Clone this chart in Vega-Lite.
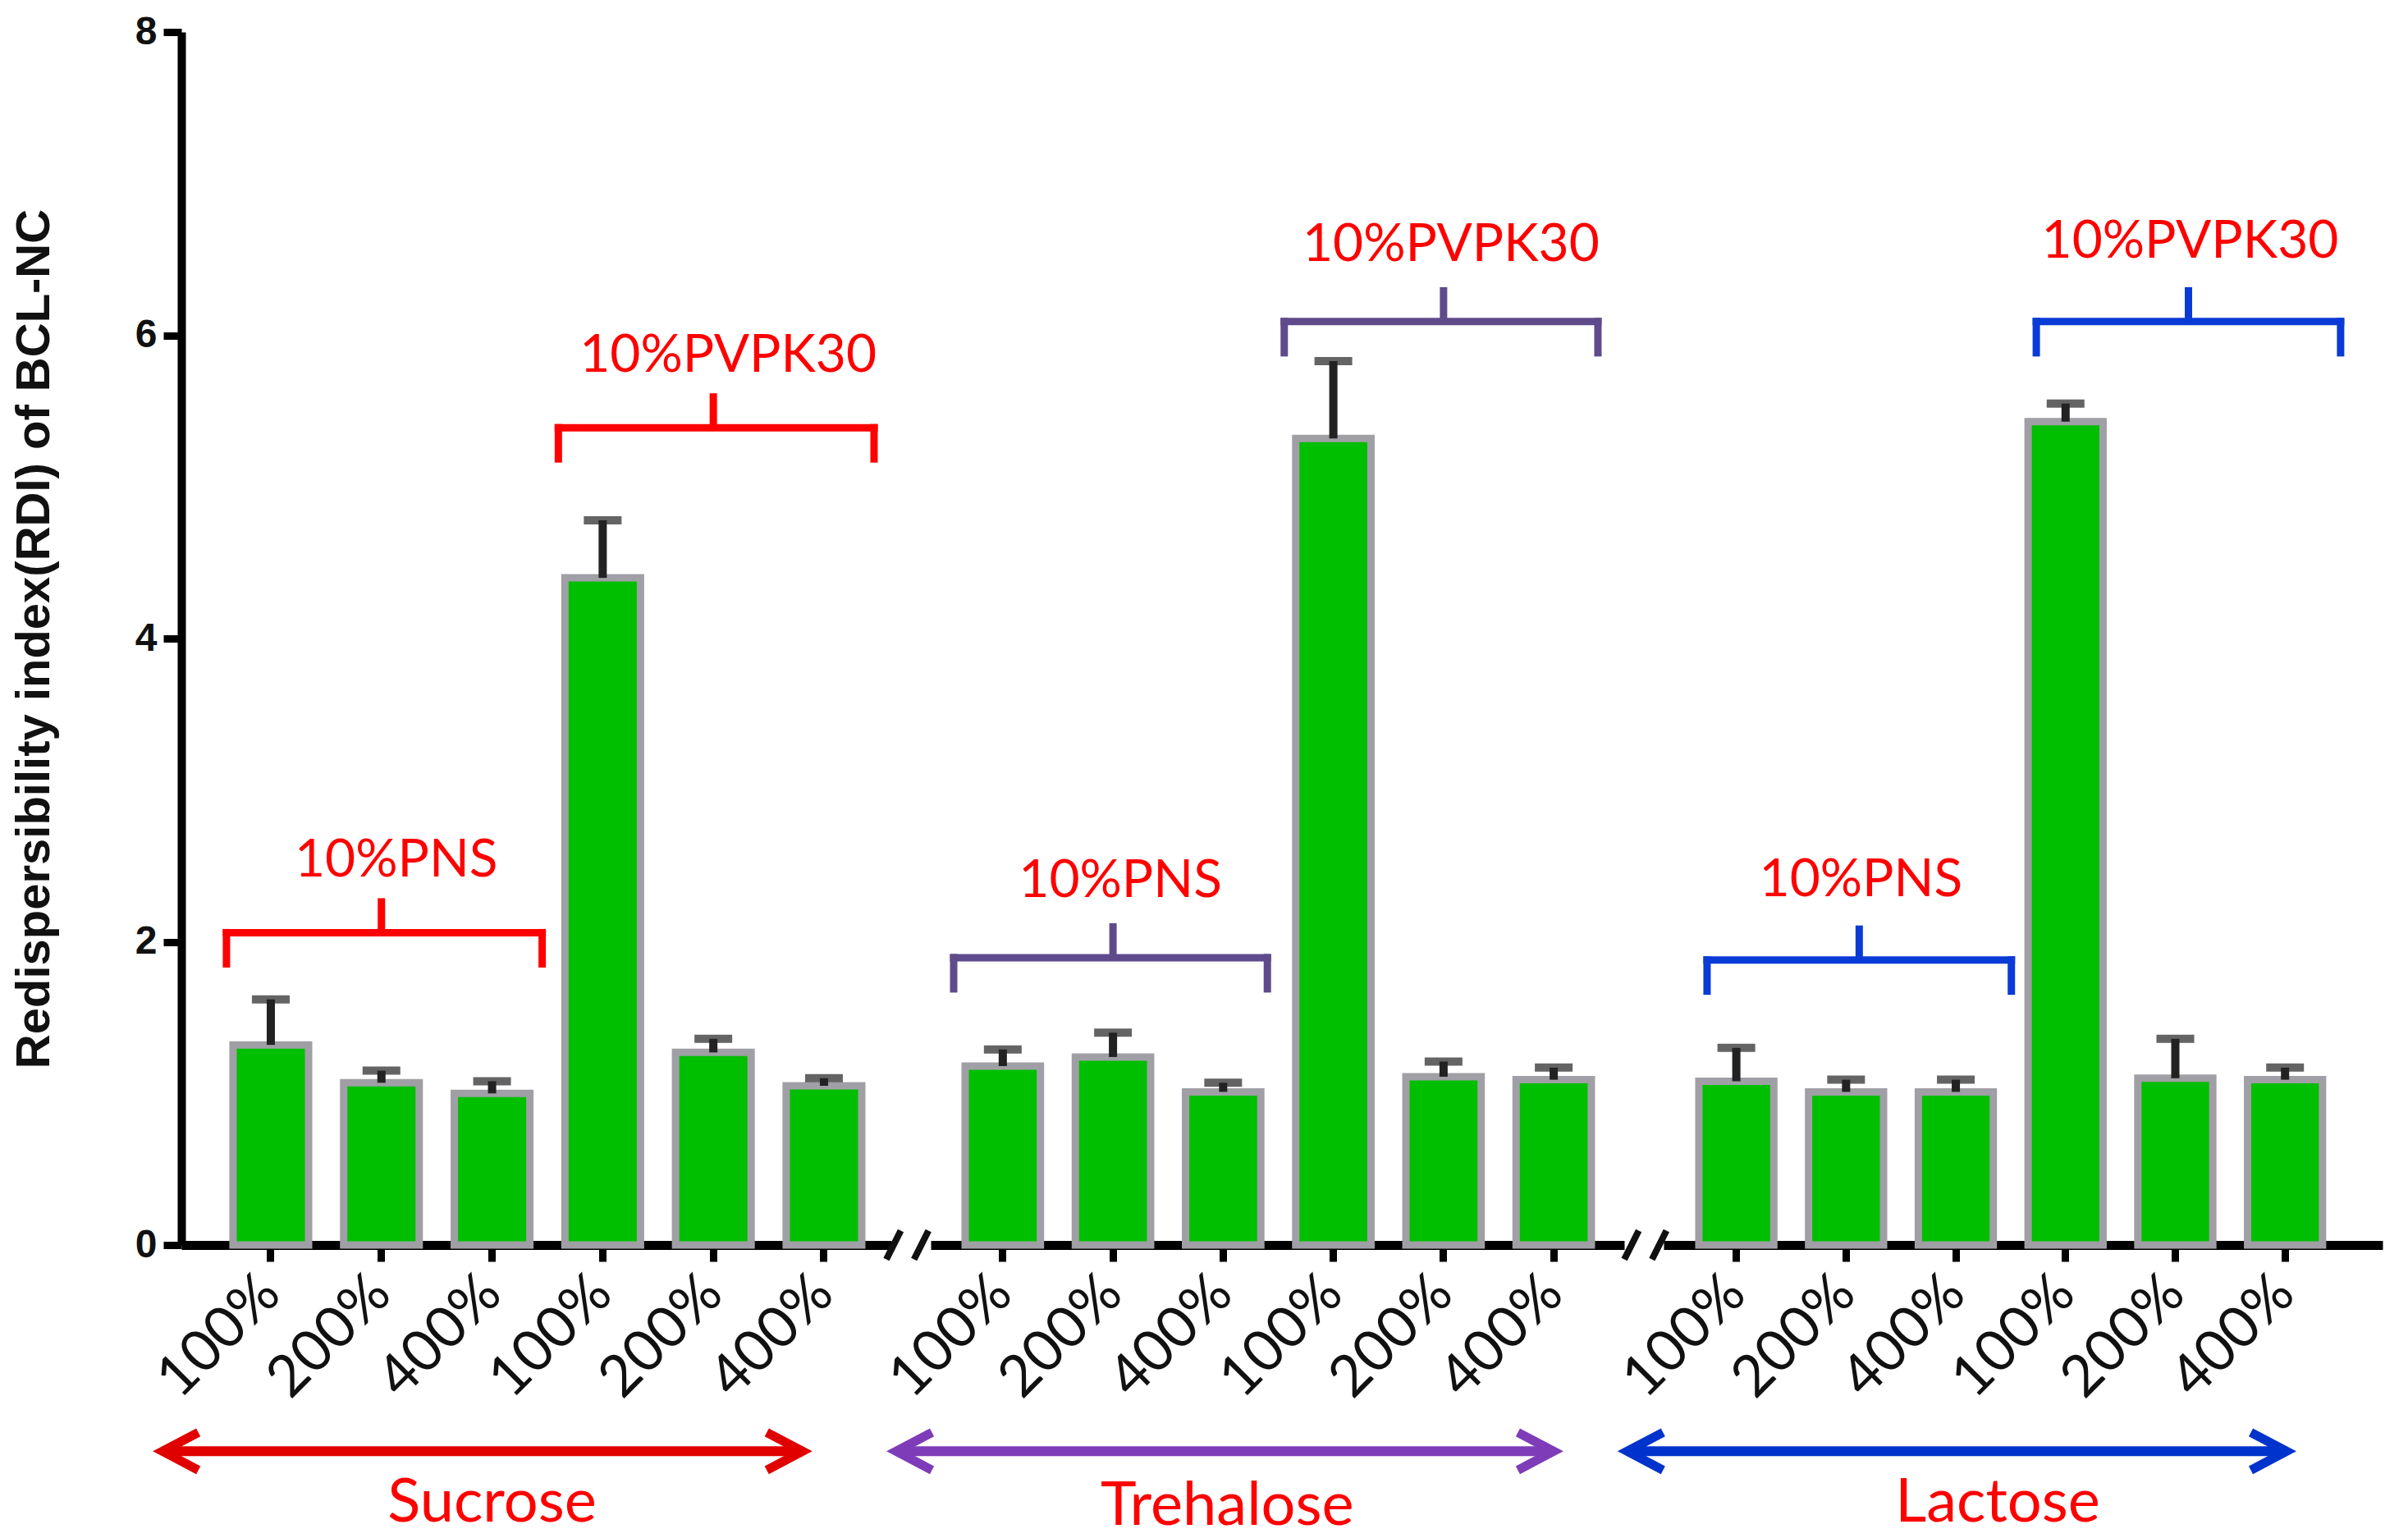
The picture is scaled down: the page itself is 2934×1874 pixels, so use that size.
{
  "$schema": "https://vega.github.io/schema/vega-lite/v6.json",
  "background": "white",
  "padding": {"left": 13, "top": 15, "right": 20, "bottom": 4},
  "datasets": {
    "bars": [
      {"sugar": "Sucrose", "bar": "PNS 100%", "rdi": 1.32, "upper": 1.62},
      {"sugar": "Sucrose", "bar": "PNS 200%", "rdi": 1.07, "upper": 1.15},
      {"sugar": "Sucrose", "bar": "PNS 400%", "rdi": 1.0, "upper": 1.08},
      {"sugar": "Sucrose", "bar": "PVP 100%", "rdi": 4.4, "upper": 4.78},
      {"sugar": "Sucrose", "bar": "PVP 200%", "rdi": 1.27, "upper": 1.36},
      {"sugar": "Sucrose", "bar": "PVP 400%", "rdi": 1.05, "upper": 1.1},
      {"sugar": "Trehalose", "bar": "PNS 100%", "rdi": 1.18, "upper": 1.29},
      {"sugar": "Trehalose", "bar": "PNS 200%", "rdi": 1.24, "upper": 1.4},
      {"sugar": "Trehalose", "bar": "PNS 400%", "rdi": 1.01, "upper": 1.07},
      {"sugar": "Trehalose", "bar": "PVP 100%", "rdi": 5.32, "upper": 5.83},
      {"sugar": "Trehalose", "bar": "PVP 200%", "rdi": 1.11, "upper": 1.21},
      {"sugar": "Trehalose", "bar": "PVP 400%", "rdi": 1.09, "upper": 1.17},
      {"sugar": "Lactose", "bar": "PNS 100%", "rdi": 1.08, "upper": 1.3},
      {"sugar": "Lactose", "bar": "PNS 200%", "rdi": 1.01, "upper": 1.09},
      {"sugar": "Lactose", "bar": "PNS 400%", "rdi": 1.01, "upper": 1.09},
      {"sugar": "Lactose", "bar": "PVP 100%", "rdi": 5.43, "upper": 5.55},
      {"sugar": "Lactose", "bar": "PVP 200%", "rdi": 1.1, "upper": 1.36},
      {"sugar": "Lactose", "bar": "PVP 400%", "rdi": 1.09, "upper": 1.17}
    ],
    "brackets": [
      {"sugar": "Sucrose", "label": "10%PNS", "first": "PNS 100%", "mid": "PNS 200%", "last": "PNS 400%", "level": 2.06},
      {"sugar": "Sucrose", "label": "10%PVPK30", "first": "PVP 100%", "mid": "PVP 200%", "last": "PVP 400%", "level": 5.39},
      {"sugar": "Trehalose", "label": "10%PNS", "first": "PNS 100%", "mid": "PNS 200%", "last": "PNS 400%", "level": 1.895},
      {"sugar": "Trehalose", "label": "10%PVPK30", "first": "PVP 100%", "mid": "PVP 200%", "last": "PVP 400%", "level": 6.09},
      {"sugar": "Lactose", "label": "10%PNS", "first": "PNS 100%", "mid": "PNS 200%", "last": "PNS 400%", "level": 1.88},
      {"sugar": "Lactose", "label": "10%PVPK30", "first": "PVP 100%", "mid": "PVP 200%", "last": "PVP 400%", "level": 6.09}
    ],
    "groups": [
      {"sugar": "Sucrose"},
      {"sugar": "Trehalose"},
      {"sugar": "Lactose"}
    ]
  },
  "hconcat": [
    {
      "width": 865,
      "height": 1478,
      "layer": [
        {
          "data": {"name": "bars"},
          "transform": [{"filter": "datum.sugar === 'Sucrose'"}],
          "mark": {"type": "bar", "fill": "#00BE00", "stroke": "#A09FA5", "strokeWidth": 9},
          "encoding": {
            "x": {"field": "bar", "type": "nominal",
                  "scale": {"domain": ["PNS 100%", "PNS 200%", "PNS 400%", "PVP 100%", "PVP 200%", "PVP 400%"], "paddingInner": 0.317, "paddingOuter": 0.367, "align": 0.636}},
            "y": {"field": "rdi", "type": "quantitative", "scale": {"domain": [0, 8], "nice": false},
                  "axis": {"values": [0, 2, 4, 6, 8], "format": "d", "title": "Redispersibility index(RDI) of BCL-NC"}}
          }
        },
        {
          "data": {"name": "bars"},
          "transform": [{"filter": "datum.sugar === 'Sucrose'"}],
          "mark": {"type": "rule", "color": "#222222", "strokeWidth": 10},
          "encoding": {
            "x": {"field": "bar", "type": "nominal"},
            "y": {"field": "rdi", "type": "quantitative"},
            "y2": {"field": "upper"}
          }
        },
        {
          "data": {"name": "bars"},
          "transform": [{"filter": "datum.sugar === 'Sucrose'"}],
          "mark": {"type": "tick", "orient": "horizontal", "color": "#222222", "thickness": 10, "size": 46},
          "encoding": {
            "x": {"field": "bar", "type": "nominal"},
            "y": {"field": "upper", "type": "quantitative"}
          }
        },
        {
          "data": {"name": "brackets"},
          "transform": [{"filter": "datum.sugar === 'Sucrose'"}],
          "layer": [
            {
              "mark": {"type": "rule", "color": "#FF0000", "strokeWidth": 9, "strokeCap": "square", "xOffset": -8, "x2Offset": 15},
              "encoding": {
                "x": {"field": "first", "type": "nominal", "bandPosition": 0},
                "x2": {"field": "last", "bandPosition": 1},
                "y": {"field": "level", "type": "quantitative"}
              }
            },
            {
              "mark": {"type": "rule", "color": "#FF0000", "strokeWidth": 9, "strokeCap": "square", "xOffset": -8, "y2Offset": 38},
              "encoding": {
                "x": {"field": "first", "type": "nominal", "bandPosition": 0},
                "y": {"field": "level", "type": "quantitative"},
                "y2": {"field": "level"}
              }
            },
            {
              "mark": {"type": "rule", "color": "#FF0000", "strokeWidth": 9, "strokeCap": "square", "xOffset": 15, "y2Offset": 38},
              "encoding": {
                "x": {"field": "last", "type": "nominal", "bandPosition": 1},
                "y": {"field": "level", "type": "quantitative"},
                "y2": {"field": "level"}
              }
            },
            {
              "mark": {"type": "rule", "color": "#FF0000", "strokeWidth": 9, "y2Offset": -42},
              "encoding": {
                "x": {"field": "mid", "type": "nominal"},
                "y": {"field": "level", "type": "quantitative"},
                "y2": {"field": "level"}
              }
            },
            {
              "mark": {"type": "text", "color": "#FF0000", "font": "Lato", "fontSize": 64, "baseline": "alphabetic", "dy": -68, "dx": 18},
              "encoding": {
                "x": {"field": "mid", "type": "nominal"},
                "y": {"field": "level", "type": "quantitative"},
                "text": {"field": "label"}
              }
            }
          ]
        },
        {
          "data": {"name": "groups"},
          "transform": [{"filter": "datum.sugar === 'Sucrose'"}],
          "layer": [
            {
              "mark": {"type": "rule", "color": "#E00000", "strokeWidth": 12, "xOffset": -132, "x2Offset": -26},
              "encoding": {
                "x": {"datum": "PNS 100%"},
                "x2": {"datum": "PVP 400%"},
                "y": {"datum": -1.36, "type": "quantitative"}
              }
            },
            {
              "mark": {"type": "point", "shape": "M1.9,-1L0,0L1.9,1", "filled": false, "size": 2116, "stroke": "#E00000", "strokeWidth": 11, "opacity": 1, "strokeJoin": "miter", "xOffset": -132},
              "encoding": {
                "x": {"datum": "PNS 100%"},
                "y": {"datum": -1.36, "type": "quantitative"}
              }
            },
            {
              "mark": {"type": "point", "shape": "M-1.9,-1L0,0L-1.9,1", "filled": false, "size": 2116, "stroke": "#E00000", "strokeWidth": 11, "opacity": 1, "strokeJoin": "miter", "xOffset": -26},
              "encoding": {
                "x": {"datum": "PVP 400%"},
                "y": {"datum": -1.36, "type": "quantitative"}
              }
            },
            {
              "mark": {"type": "text", "color": "#FF0000", "font": "Lato", "fontSize": 74, "baseline": "alphabetic", "dy": 86},
              "encoding": {
                "x": {"datum": "PNS 400%"},
                "y": {"datum": -1.36, "type": "quantitative"},
                "text": {"field": "sugar"}
              }
            },
            {
              "mark": {"type": "point", "shape": "M-1,0.65L-0.35,-0.65M0.25,0.65L0.9,-0.65", "filled": false, "size": 2916, "stroke": "#111111", "strokeWidth": 8, "opacity": 1, "xOffset": 103},
              "encoding": {
                "x": {"datum": "PVP 400%"},
                "y": {"datum": 0, "type": "quantitative"}
              }
            }
          ]
        }
      ]
    },
    {
      "width": 845,
      "height": 1478,
      "layer": [
        {
          "data": {"name": "bars"},
          "transform": [{"filter": "datum.sugar === 'Trehalose'"}],
          "mark": {"type": "bar", "fill": "#00BE00", "stroke": "#A09FA5", "strokeWidth": 9},
          "encoding": {
            "x": {"field": "bar", "type": "nominal",
                  "scale": {"domain": ["PNS 100%", "PNS 200%", "PNS 400%", "PVP 100%", "PVP 200%", "PVP 400%"], "paddingInner": 0.317, "paddingOuter": 0.3055, "align": 0.512}},
            "y": {"field": "rdi", "type": "quantitative", "scale": {"domain": [0, 8], "nice": false}, "axis": null}
          }
        },
        {
          "data": {"name": "bars"},
          "transform": [{"filter": "datum.sugar === 'Trehalose'"}],
          "mark": {"type": "rule", "color": "#222222", "strokeWidth": 10},
          "encoding": {
            "x": {"field": "bar", "type": "nominal"},
            "y": {"field": "rdi", "type": "quantitative", "axis": null},
            "y2": {"field": "upper"}
          }
        },
        {
          "data": {"name": "bars"},
          "transform": [{"filter": "datum.sugar === 'Trehalose'"}],
          "mark": {"type": "tick", "orient": "horizontal", "color": "#222222", "thickness": 10, "size": 46},
          "encoding": {
            "x": {"field": "bar", "type": "nominal"},
            "y": {"field": "upper", "type": "quantitative", "axis": null}
          }
        },
        {
          "data": {"name": "brackets"},
          "transform": [{"filter": "datum.sugar === 'Trehalose'"}],
          "layer": [
            {
              "mark": {"type": "rule", "color": "#5F4B8B", "strokeWidth": 9, "strokeCap": "square", "xOffset": -14, "x2Offset": 8},
              "encoding": {
                "x": {"field": "first", "type": "nominal", "bandPosition": 0},
                "x2": {"field": "last", "bandPosition": 1},
                "y": {"field": "level", "type": "quantitative", "axis": null}
              }
            },
            {
              "mark": {"type": "rule", "color": "#5F4B8B", "strokeWidth": 9, "strokeCap": "square", "xOffset": -14, "y2Offset": 38},
              "encoding": {
                "x": {"field": "first", "type": "nominal", "bandPosition": 0},
                "y": {"field": "level", "type": "quantitative", "axis": null},
                "y2": {"field": "level"}
              }
            },
            {
              "mark": {"type": "rule", "color": "#5F4B8B", "strokeWidth": 9, "strokeCap": "square", "xOffset": 8, "y2Offset": 38},
              "encoding": {
                "x": {"field": "last", "type": "nominal", "bandPosition": 1},
                "y": {"field": "level", "type": "quantitative", "axis": null},
                "y2": {"field": "level"}
              }
            },
            {
              "mark": {"type": "rule", "color": "#5F4B8B", "strokeWidth": 9, "y2Offset": -42},
              "encoding": {
                "x": {"field": "mid", "type": "nominal"},
                "y": {"field": "level", "type": "quantitative", "axis": null},
                "y2": {"field": "level"}
              }
            },
            {
              "mark": {"type": "text", "color": "#FF0000", "font": "Lato", "fontSize": 64, "baseline": "alphabetic", "dy": -74, "dx": 9},
              "encoding": {
                "x": {"field": "mid", "type": "nominal"},
                "y": {"field": "level", "type": "quantitative", "axis": null},
                "text": {"field": "label"}
              }
            }
          ]
        },
        {
          "data": {"name": "groups"},
          "transform": [{"filter": "datum.sugar === 'Trehalose'"}],
          "layer": [
            {
              "mark": {"type": "rule", "color": "#7E3CB8", "strokeWidth": 12, "xOffset": -130, "x2Offset": 0},
              "encoding": {
                "x": {"datum": "PNS 100%"},
                "x2": {"datum": "PVP 400%"},
                "y": {"datum": -1.36, "type": "quantitative", "axis": null}
              }
            },
            {
              "mark": {"type": "point", "shape": "M1.9,-1L0,0L1.9,1", "filled": false, "size": 2116, "stroke": "#7E3CB8", "strokeWidth": 11, "opacity": 1, "strokeJoin": "miter", "xOffset": -130},
              "encoding": {
                "x": {"datum": "PNS 100%"},
                "y": {"datum": -1.36, "type": "quantitative", "axis": null}
              }
            },
            {
              "mark": {"type": "point", "shape": "M-1.9,-1L0,0L-1.9,1", "filled": false, "size": 2116, "stroke": "#7E3CB8", "strokeWidth": 11, "opacity": 1, "strokeJoin": "miter", "xOffset": 0},
              "encoding": {
                "x": {"datum": "PVP 400%"},
                "y": {"datum": -1.36, "type": "quantitative", "axis": null}
              }
            },
            {
              "mark": {"type": "text", "color": "#FF0000", "font": "Lato", "fontSize": 74, "baseline": "alphabetic", "dy": 90, "dx": 5},
              "encoding": {
                "x": {"datum": "PNS 400%"},
                "y": {"datum": -1.36, "type": "quantitative", "axis": null},
                "text": {"field": "sugar"}
              }
            },
            {
              "mark": {"type": "point", "shape": "M-1,0.65L-0.35,-0.65M0.25,0.65L0.9,-0.65", "filled": false, "size": 2916, "stroke": "#111111", "strokeWidth": 8, "opacity": 1, "xOffset": 113},
              "encoding": {
                "x": {"datum": "PVP 400%"},
                "y": {"datum": 0, "type": "quantitative", "axis": null}
              }
            }
          ]
        }
      ]
    },
    {
      "width": 876,
      "height": 1478,
      "layer": [
        {
          "data": {"name": "bars"},
          "transform": [{"filter": "datum.sugar === 'Lactose'"}],
          "mark": {"type": "bar", "fill": "#00BE00", "stroke": "#A09FA5", "strokeWidth": 9},
          "encoding": {
            "x": {"field": "bar", "type": "nominal",
                  "scale": {"domain": ["PNS 100%", "PNS 200%", "PNS 400%", "PVP 100%", "PVP 200%", "PVP 400%"], "paddingInner": 0.317, "paddingOuter": 0.434, "align": 0.37}},
            "y": {"field": "rdi", "type": "quantitative", "scale": {"domain": [0, 8], "nice": false}, "axis": null}
          }
        },
        {
          "data": {"name": "bars"},
          "transform": [{"filter": "datum.sugar === 'Lactose'"}],
          "mark": {"type": "rule", "color": "#222222", "strokeWidth": 10},
          "encoding": {
            "x": {"field": "bar", "type": "nominal"},
            "y": {"field": "rdi", "type": "quantitative", "axis": null},
            "y2": {"field": "upper"}
          }
        },
        {
          "data": {"name": "bars"},
          "transform": [{"filter": "datum.sugar === 'Lactose'"}],
          "mark": {"type": "tick", "orient": "horizontal", "color": "#222222", "thickness": 10, "size": 46},
          "encoding": {
            "x": {"field": "bar", "type": "nominal"},
            "y": {"field": "upper", "type": "quantitative", "axis": null}
          }
        },
        {
          "data": {"name": "brackets"},
          "transform": [{"filter": "datum.sugar === 'Lactose'"}],
          "layer": [
            {
              "mark": {"type": "rule", "color": "#0B3BD6", "strokeWidth": 9, "strokeCap": "square", "xOffset": 10, "x2Offset": 22},
              "encoding": {
                "x": {"field": "first", "type": "nominal", "bandPosition": 0},
                "x2": {"field": "last", "bandPosition": 1},
                "y": {"field": "level", "type": "quantitative", "axis": null}
              }
            },
            {
              "mark": {"type": "rule", "color": "#0B3BD6", "strokeWidth": 9, "strokeCap": "square", "xOffset": 10, "y2Offset": 38},
              "encoding": {
                "x": {"field": "first", "type": "nominal", "bandPosition": 0},
                "y": {"field": "level", "type": "quantitative", "axis": null},
                "y2": {"field": "level"}
              }
            },
            {
              "mark": {"type": "rule", "color": "#0B3BD6", "strokeWidth": 9, "strokeCap": "square", "xOffset": 22, "y2Offset": 38},
              "encoding": {
                "x": {"field": "last", "type": "nominal", "bandPosition": 1},
                "y": {"field": "level", "type": "quantitative", "axis": null},
                "y2": {"field": "level"}
              }
            },
            {
              "mark": {"type": "rule", "color": "#0B3BD6", "strokeWidth": 9, "y2Offset": -42, "xOffset": 16},
              "encoding": {
                "x": {"field": "mid", "type": "nominal"},
                "y": {"field": "level", "type": "quantitative", "axis": null},
                "y2": {"field": "level"}
              }
            },
            {
              "mark": {"type": "text", "color": "#FF0000", "font": "Lato", "fontSize": 64, "baseline": "alphabetic", "dy": -78, "dx": 18},
              "encoding": {
                "x": {"field": "mid", "type": "nominal"},
                "y": {"field": "level", "type": "quantitative", "axis": null},
                "text": {"field": "label"}
              }
            }
          ]
        },
        {
          "data": {"name": "groups"},
          "transform": [{"filter": "datum.sugar === 'Lactose'"}],
          "layer": [
            {
              "mark": {"type": "rule", "color": "#0033CC", "strokeWidth": 12, "xOffset": -133, "x2Offset": 2},
              "encoding": {
                "x": {"datum": "PNS 100%"},
                "x2": {"datum": "PVP 400%"},
                "y": {"datum": -1.36, "type": "quantitative", "axis": null}
              }
            },
            {
              "mark": {"type": "point", "shape": "M1.9,-1L0,0L1.9,1", "filled": false, "size": 2116, "stroke": "#0033CC", "strokeWidth": 11, "opacity": 1, "strokeJoin": "miter", "xOffset": -133},
              "encoding": {
                "x": {"datum": "PNS 100%"},
                "y": {"datum": -1.36, "type": "quantitative", "axis": null}
              }
            },
            {
              "mark": {"type": "point", "shape": "M-1.9,-1L0,0L-1.9,1", "filled": false, "size": 2116, "stroke": "#0033CC", "strokeWidth": 11, "opacity": 1, "strokeJoin": "miter", "xOffset": 2},
              "encoding": {
                "x": {"datum": "PVP 400%"},
                "y": {"datum": -1.36, "type": "quantitative", "axis": null}
              }
            },
            {
              "mark": {"type": "text", "color": "#FF0000", "font": "Lato", "fontSize": 74, "baseline": "alphabetic", "dy": 86, "dx": 51},
              "encoding": {
                "x": {"datum": "PNS 400%"},
                "y": {"datum": -1.36, "type": "quantitative", "axis": null},
                "text": {"field": "sugar"}
              }
            }
          ]
        }
      ]
    }
  ],
  "spacing": 48,
  "bounds": "flush",
  "resolve": {"scale": {"x": "independent", "y": "independent"}},
  "config": {
    "view": {"stroke": null},
    "axisX": {
      "title": null,
      "labelExpr": "split(datum.label, ' ')[1]",
      "labelAngle": -45,
      "labelAlign": "right",
      "labelBaseline": "middle",
      "labelFont": "Lato",
      "labelFontSize": 70,
      "labelColor": "#111111",
      "labelPadding": 28,
      "labelOverlap": false,
      "labelBound": false,
      "labelFlush": false,
      "tickColor": "#000000",
      "tickWidth": 9,
      "tickSize": 20,
      "domainColor": "#000000",
      "domainWidth": 11,
      "grid": false
    },
    "axisY": {
      "labelFont": "Liberation Sans",
      "labelFontWeight": "bold",
      "labelFontSize": 48,
      "labelColor": "#111111",
      "labelPadding": 8,
      "tickColor": "#000000",
      "tickWidth": 9,
      "tickSize": 22,
      "domainColor": "#000000",
      "domainWidth": 10,
      "titleFont": "Liberation Sans",
      "titleFontWeight": "bold",
      "titleFontSize": 58,
      "titleColor": "#111111",
      "titlePadding": 93,
      "grid": false
    }
  }
}
